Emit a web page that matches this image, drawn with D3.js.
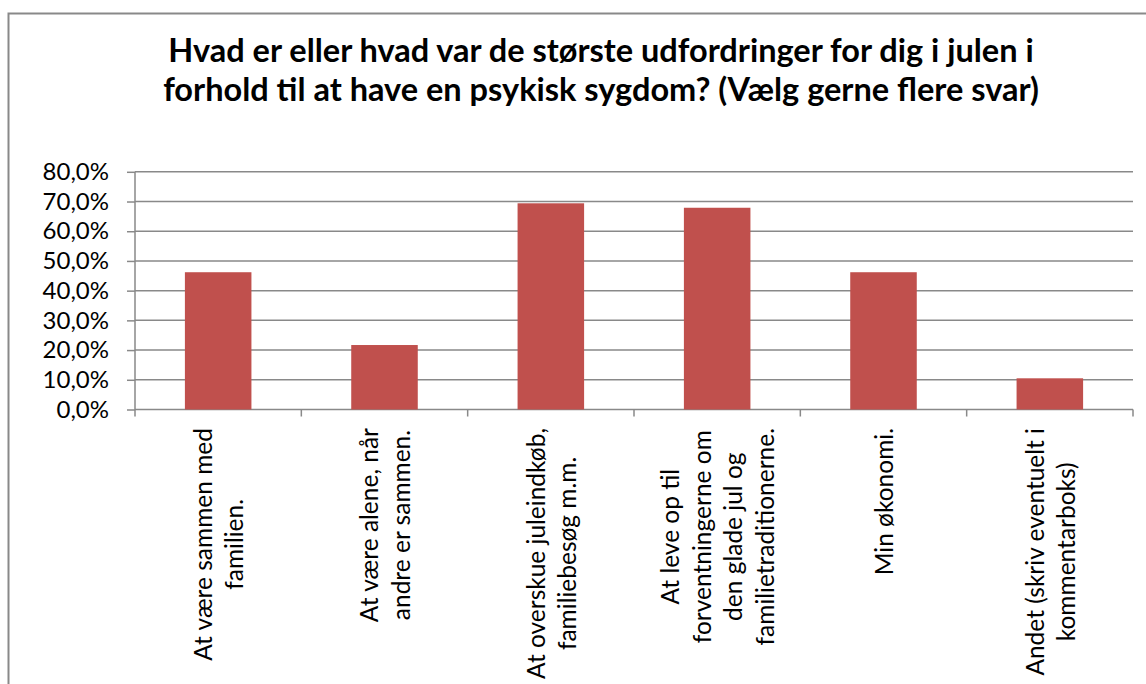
<!DOCTYPE html>
<meta charset="utf-8">
<head>
<script src="https://d3js.org/d3.v7.min.js"></script>
<style>
  body { margin: 0; background: #fff; }
  text { font-family: Lato, "Open Sans", sans-serif; fill: #000; }
</style>
</head>
<body>
<svg id="chart" width="1146" height="684"></svg>
<script>
// Data
var categories = [
  ["At være sammen med", "familien."],
  ["At være alene, når", "andre er sammen."],
  ["At overskue juleindkøb,", "familiebesøg m.m."],
  ["At leve op til", "forventningerne om", "den glade jul og", "familietraditionerne."],
  ["Min økonomi."],
  ["Andet (skriv eventuelt i", "kommentarboks)"]
];
var values = [0.462, 0.217, 0.694, 0.679, 0.462, 0.105];
var yTicks = [0, 0.1, 0.2, 0.3, 0.4, 0.5, 0.6, 0.7, 0.8];
var titleLines = [
  "Hvad er eller hvad var de største udfordringer for dig i julen i",
  "forhold til at have en psykisk sygdom? (Vælg gerne flere svar)"
];

var svg = d3.select("#chart");
var gray = "#898989";

// outer chart frame
svg.append("rect")
  .attr("x", 8.5).attr("y", 13.5)
  .attr("width", 1160).attr("height", 700)
  .attr("fill", "none").attr("stroke", gray).attr("stroke-width", 2);

// title
svg.selectAll(".title")
  .data(titleLines)
  .enter().append("text")
  .attr("class", "title")
  .attr("x", 601)
  .attr("y", function(d, i) { return 62 + i * 38.5; })
  .attr("text-anchor", "middle")
  .style("font-weight", "bold")
  .style("font-size", "32.5px")
  .text(function(d) { return d; });

var plotL = 135, plotR = 1133, plotT = 171.8, plotB = 409.5;

var x = d3.scaleBand()
  .domain(d3.range(categories.length))
  .range([plotL, plotR])
  .paddingInner(0.6)
  .paddingOuter(0.3);

var y = d3.scaleLinear()
  .domain([0, 0.8])
  .range([plotB, plotT]);

// gridlines
svg.append("g")
  .selectAll("line")
  .data(yTicks.slice(1))
  .enter().append("line")
  .attr("x1", plotL).attr("x2", plotR)
  .attr("y1", function(d) { return y(d); })
  .attr("y2", function(d) { return y(d); })
  .attr("stroke", gray).attr("stroke-width", 1.5);

// y axis
var yAxis = d3.axisLeft(y)
  .tickValues(yTicks)
  .tickSize(8)
  .tickPadding(18)
  .tickFormat(function(d) { return d3.format(".1%")(d).replace(".", ","); });

var gy = svg.append("g")
  .attr("transform", "translate(" + plotL + ",0)")
  .call(yAxis);
gy.select(".domain").remove();
gy.selectAll("line").attr("stroke", gray).attr("stroke-width", 1.5);
gy.selectAll("text")
  .style("font-size", "24px")
  .style("font-family", "Lato, sans-serif")
  .attr("fill", "#000");
gy.append("line")
  .attr("x1", 0).attr("x2", 0)
  .attr("y1", plotT).attr("y2", plotB + 7)
  .attr("stroke", gray).attr("stroke-width", 1.5);

// x axis line and category boundary ticks
svg.append("line")
  .attr("x1", plotL).attr("x2", plotR)
  .attr("y1", plotB).attr("y2", plotB)
  .attr("stroke", gray).attr("stroke-width", 1.5);

svg.append("g")
  .selectAll("line")
  .data(d3.range(1, categories.length + 1))
  .enter().append("line")
  .attr("x1", function(i) { return plotL + (plotR - plotL) * i / categories.length; })
  .attr("x2", function(i) { return plotL + (plotR - plotL) * i / categories.length; })
  .attr("y1", plotB).attr("y2", plotB + 7)
  .attr("stroke", gray).attr("stroke-width", 1.5);

// bars
svg.append("g")
  .selectAll("rect")
  .data(values)
  .enter().append("rect")
  .attr("x", function(d, i) { return x(i); })
  .attr("y", function(d) { return y(d); })
  .attr("width", x.bandwidth())
  .attr("height", function(d) { return plotB - y(d); })
  .attr("fill", "#C0504D");

// rotated category labels
var lineGap = 31.5;
var labelTop = 428;
categories.forEach(function(lines, i) {
  var cx = x(i) + x.bandwidth() / 2;
  var g = svg.append("g");
  var texts = g.selectAll("text")
    .data(lines)
    .enter().append("text")
    .style("font-size", "24.5px")
    .attr("text-anchor", "middle")
    .attr("dominant-baseline", "central")
    .text(function(d) { return d; });
  var maxW = d3.max(texts.nodes(), function(n) { return n.getComputedTextLength(); });
  var cy = labelTop + maxW / 2;
  texts.attr("transform", function(d, j) {
    var lx = cx + (j - (lines.length - 1) / 2) * lineGap;
    return "translate(" + lx + "," + cy + ") rotate(-90)";
  });
});
</script>
</body>
</html>
